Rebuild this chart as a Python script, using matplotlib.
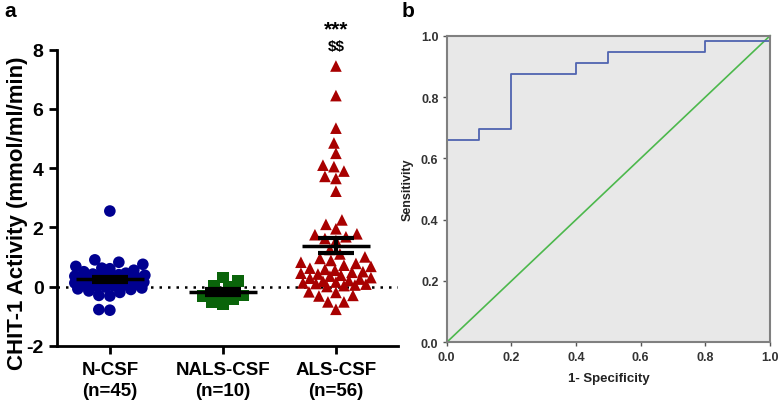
import matplotlib
matplotlib.use("Agg")
import matplotlib.pyplot as plt
import numpy as np

# panel a data: CHIT-1 activity (mmol/ml/min)
groups = ["N-CSF\n(n=45)", "NALS-CSF\n(n=10)", "ALS-CSF\n(n=56)"]
n_csf = [2.55, 0.90, 0.82, 0.75, 0.68, 0.62, 0.60, 0.55, 0.50, 0.45,
         0.42, 0.40, 0.38, 0.35, 0.32, 0.30, 0.28, 0.26, 0.25, 0.23,
         0.22, 0.20, 0.18, 0.16, 0.15, 0.13, 0.12, 0.10, 0.08, 0.07,
         0.05, 0.04, 0.02, 0.00, -0.02, -0.05, -0.08, -0.10, -0.15, -0.20,
         -0.30, -0.32, -0.78, -0.80, 0.35]
nals_csf = [0.30, 0.19, 0.00, 0.03, -0.43, -0.32, -0.60, -0.52, -0.30, -0.25]
als_csf = [7.45, 6.45, 5.35, 4.85, 4.50, 4.10, 4.05, 3.90, 3.72, 3.65, 3.22,
           2.25, 2.10, 1.95, 1.78, 1.75, 1.68, 1.62, 1.55,
           1.25, 1.10, 1.00, 0.95, 0.88, 0.82, 0.78, 0.72, 0.68, 0.62,
           0.58, 0.55, 0.50, 0.48, 0.45, 0.42, 0.38, 0.35, 0.30, 0.28,
           0.25, 0.20, 0.18, 0.15, 0.12, 0.10, 0.08, 0.05, 0.03, 0.00,
           -0.18, -0.20, -0.30, -0.32, -0.52, -0.52, -0.77]

# panel b data: ROC curve
fpr = [0.0, 0.0, 0.1, 0.2, 0.4, 0.5, 0.8, 1.0]
tpr = [0.0, 0.661, 0.696, 0.875, 0.911, 0.946, 0.982, 1.0]

plt.rcParams["font.family"] = ["Liberation Sans", "DejaVu Sans"]


def swarm_x(ax, xc, values, size_px, max_dx):
    # simple beeswarm in pixel space; crowded points overlap instead of piling at the edge
    pts = ax.transData.transform([(xc, v) for v in values])
    px_per_unit = ax.transData.transform((1, 0))[0] - ax.transData.transform((0, 0))[0]
    ys = pts[:, 1]
    lim = int(max_dx * px_per_unit)
    cands = [0]
    for k in range(1, lim + 1):
        cands += [-k, k]
    placed = []
    xs = np.zeros(len(values))
    for i in np.argsort(values):
        best, best_gap = 0, -1
        for d in cands:
            gap = min([np.hypot(d - px, ys[i] - py) for px, py in placed] or [1e9])
            if gap >= size_px:
                best = d
                break
            if gap > best_gap + 0.5:
                best, best_gap = d, gap
        placed.append((best, ys[i]))
        xs[i] = xc + best / px_per_unit
    return xs


fig = plt.figure(figsize=(7.78, 4.10), dpi=100)

# ---- panel a
ax = fig.add_axes([0.0729, 0.1544, 0.4388, 0.7219])
ax.set_xlim(-0.47, 2.55)
ax.set_ylim(-2, 8)
for s in ["top", "right"]:
    ax.spines[s].set_visible(False)
for s in ["left", "bottom"]:
    ax.spines[s].set_linewidth(2)
ax.set_yticks([-2, 0, 2, 4, 6, 8])
ax.set_xticks([0, 1, 2])
ax.set_xticklabels(groups, fontsize=13.5, fontweight="bold", linespacing=1.3)
ax.set_yticklabels(["-2", "0", "2", "4", "6", "8"], fontsize=14, fontweight="bold")
ax.tick_params(width=2, length=6, direction="out")
ax.tick_params(axis="x", pad=5)
ax.set_ylabel("CHIT-1 Activity (mmol/ml/min)", fontsize=16, fontweight="bold")
ax.yaxis.set_label_coords(-0.085, 0.45)

ax.axhline(0, color="black", lw=1.8, ls=(0, (1, 2.4)), zorder=1)

series = [n_csf, nals_csf, als_csf]
markers = ["o", "s", "^"]
colors = ["#000090", "#0a640a", "#a80000"]
for i, (vals, m, c) in enumerate(zip(series, markers, colors)):
    xs = swarm_x(ax, i, vals, 10.5, 0.31)
    ax.scatter(xs, vals, marker=m, s=70, color=c, edgecolors="none", zorder=2)
    mean = np.mean(vals)
    sem = np.std(vals, ddof=1) / np.sqrt(len(vals))
    ax.hlines(mean, i - 0.3, i + 0.3, color="black", lw=2.5, zorder=3)
    ax.errorbar(i, mean, yerr=sem, color="black", elinewidth=3, capsize=13,
                capthick=3, zorder=3)

ax.text(2, 8.72, "***", ha="center", va="center", fontsize=15, fontweight="bold", clip_on=False)
ax.text(2, 8.12, r"\$\$", ha="center", va="center", fontsize=11, fontweight="bold",
        clip_on=False)

# ---- panel b
bx = fig.add_axes([0.5742, 0.1627, 0.4156, 0.7478])
bx.set_facecolor("#e8e8e8")
for s in bx.spines.values():
    s.set_color("#808080")
    s.set_linewidth(1.5)
bx.set_xlim(0, 1)
bx.set_ylim(0, 1)
ticks = [0.0, 0.2, 0.4, 0.6, 0.8, 1.0]
bx.set_xticks(ticks)
bx.set_yticks(ticks)
bx.set_xticklabels([f"{t:.1f}" for t in ticks], fontsize=9, fontweight="bold", color="#333333")
bx.set_yticklabels([f"{t:.1f}" for t in ticks], fontsize=9, fontweight="bold", color="#333333")
bx.tick_params(direction="out", length=3, width=1, color="#555555", pad=3)
bx.plot([0, 1], [0, 1], color="#4cb84c", lw=1.2, clip_on=False)
bx.plot(fpr, tpr, drawstyle="steps-post", color="#5064b0", lw=1.3, clip_on=False)
bx.set_xlabel("1- Specificity", fontsize=9.5, fontweight="bold", color="#222222", labelpad=7)
bx.set_ylabel("Sensitivity", fontsize=9, fontweight="bold", color="#222222", labelpad=5)

fig.text(0.006, 0.972, "a", fontsize=15, fontweight="bold", va="center")
fig.text(0.516, 0.972, "b", fontsize=15, fontweight="bold", va="center")

fig.savefig("out.png", dpi=100)
